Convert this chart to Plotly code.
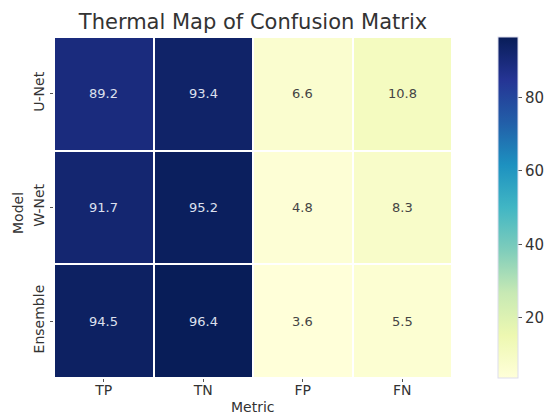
import plotly.graph_objects as go
import plotly.colors as pc

metrics = ["TP", "TN", "FP", "FN"]
models = ["U-Net", "W-Net", "Ensemble"]
values = [
    [89.2, 93.4, 6.6, 10.8],
    [91.7, 95.2, 4.8, 8.3],
    [94.5, 96.4, 3.6, 5.5],
]
cbar_ticks = [20, 40, 60, 80]

zmin = min(min(r) for r in values)
zmax = max(max(r) for r in values)

FONT = "DejaVu Sans"
L, R, T, B = 54, 94, 37, 36
PW = 546 - L - R

fig = go.Figure(go.Heatmap(
    z=values, x=metrics, y=models,
    colorscale=pc.sequential.YlGnBu,
    zmin=zmin, zmax=zmax,
    xgap=2, ygap=2,
    colorbar=dict(
        thickness=20, len=1.0, lenmode="fraction", y=0.5, yanchor="middle",
        x=(498 - L) / PW, xanchor="left", xpad=0, ypad=0,
        tickvals=cbar_ticks, ticks="outside", ticklen=4, tickcolor="#555",
        tickfont=dict(family=FONT, size=15, color="#333"),
        outlinewidth=1, outlinecolor="#dde",
    ),
    hoverinfo="skip",
))

annotations = []
mid = (zmin + zmax) / 2
for i, m in enumerate(models):
    for j, c in enumerate(metrics):
        v = values[i][j]
        annotations.append(dict(
            x=c, y=m, text=f"{v:.1f}", showarrow=False,
            font=dict(family=FONT, size=13, color="#dde0ee" if v > mid else "#444"),
        ))

# axis titles placed as paper annotations for exact positioning
annotations.append(dict(text="Metric", xref="paper", yref="paper", x=0.5, y=-(407 - (414 - B)) / (414 - T - B),
                        xanchor="center", yanchor="middle", showarrow=False,
                        font=dict(family=FONT, size=14, color="#333")))
annotations.append(dict(text="Model", xref="paper", yref="paper", x=-(L - 18) / PW, y=0.5 - (213 - (T + (414 - T - B) / 2)) / (414 - T - B),
                        xanchor="center", yanchor="middle", showarrow=False, textangle=-90,
                        font=dict(family=FONT, size=14, color="#333")))

fig.update_layout(
    width=546, height=414,
    margin=dict(l=L, r=R, t=T, b=B, autoexpand=False),
    paper_bgcolor="white", plot_bgcolor="white",
    title=dict(text="Thermal Map of Confusion Matrix", x=(L + PW / 2) / 546, xanchor="center",
               y=1 - 22 / 414, yanchor="middle",
               font=dict(family=FONT, size=21, color="#333")),
    annotations=annotations,
    xaxis=dict(tickfont=dict(family=FONT, size=14, color="#333"), ticklabelstandoff=-4,
               ticks="outside", ticklen=3, tickcolor="#555", showgrid=False, zeroline=False),
    yaxis=dict(tickfont=dict(family=FONT, size=14, color="#333"), tickangle=-90,
               autorange="reversed",
               ticks="outside", ticklen=3, tickcolor="#555", showgrid=False, zeroline=False),
)

fig.write_html("out.html")
